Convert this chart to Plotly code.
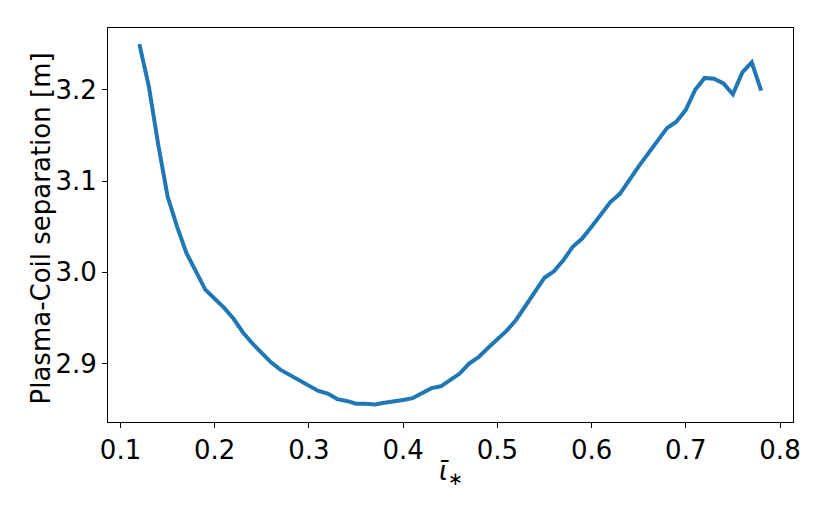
import plotly.graph_objects as go

iota = [0.12, 0.13, 0.14, 0.15, 0.16, 0.17, 0.18, 0.19, 0.20, 0.21, 0.22, 0.23,
        0.24, 0.25, 0.26, 0.27, 0.28, 0.29, 0.30, 0.31, 0.32, 0.33, 0.34, 0.35,
        0.36, 0.37, 0.38, 0.39, 0.40, 0.41, 0.42, 0.43, 0.44, 0.45, 0.46, 0.47,
        0.48, 0.49, 0.50, 0.51, 0.52, 0.53, 0.54, 0.55, 0.56, 0.57, 0.58, 0.59,
        0.60, 0.61, 0.62, 0.63, 0.64, 0.65, 0.66, 0.67, 0.68, 0.69, 0.70, 0.71,
        0.72, 0.73, 0.74, 0.75, 0.76, 0.77, 0.78]
separation = [3.250, 3.204, 3.140, 3.083, 3.050, 3.021, 3.001, 2.981, 2.971, 2.961,
              2.949, 2.934, 2.922, 2.911, 2.901, 2.893, 2.887, 2.882, 2.875, 2.870,
              2.867, 2.861, 2.859, 2.856, 2.856, 2.855, 2.857, 2.858, 2.860, 2.862,
              2.868, 2.873, 2.875, 2.882, 2.889, 2.900, 2.907, 2.917, 2.926, 2.936,
              2.948, 2.963, 2.979, 2.994, 3.001, 3.013, 3.028, 3.037, 3.050, 3.064,
              3.077, 3.086, 3.102, 3.116, 3.130, 3.144, 3.158, 3.165, 3.178, 3.200,
              3.213, 3.212, 3.207, 3.195, 3.219, 3.230, 3.199]

x_ticks = [0.1, 0.2, 0.3, 0.4, 0.5, 0.6, 0.7, 0.8]
y_ticks = [2.9, 3.0, 3.1, 3.2]

FONT = "DejaVu Sans"
FS = 26

fig = go.Figure()
fig.add_trace(go.Scatter(x=iota, y=separation, mode="lines",
                         line=dict(color="#1f77b4", width=4), showlegend=False))

axis_common = dict(showline=True, linecolor="black", linewidth=1, mirror=True,
                   ticks="outside", ticklen=5, tickwidth=1, tickcolor="black",
                   showgrid=False, zeroline=False,
                   tickfont=dict(family=FONT, size=FS, color="black"))

fig.update_xaxes(range=[0.0867, 0.8138], tickvals=x_ticks,
                 ticktext=[f"{v:.1f}" for v in x_ticks], **axis_common)
fig.update_yaxes(range=[2.8359, 3.2677], tickvals=y_ticks,
                 ticktext=[f"{v:.1f}" for v in y_ticks], **axis_common)

fig.add_annotation(text="<i>ῑ</i><sub>∗</sub>", xref="paper", yref="paper",
                   x=0.5, y=-0.08, xanchor="center", yanchor="top", showarrow=False,
                   font=dict(family=FONT, size=FS, color="black"))
fig.add_annotation(text="Plasma-Coil separation [m]", xref="paper", yref="paper",
                   x=-0.0985, y=0.49, xanchor="center", yanchor="middle", showarrow=False,
                   textangle=-90, font=dict(family=FONT, size=FS, color="black"))

fig.update_layout(width=830, height=513, paper_bgcolor="white", plot_bgcolor="white",
                  margin=dict(l=100, r=45, t=20, b=99, autoexpand=False))

fig.write_html("out.html")
